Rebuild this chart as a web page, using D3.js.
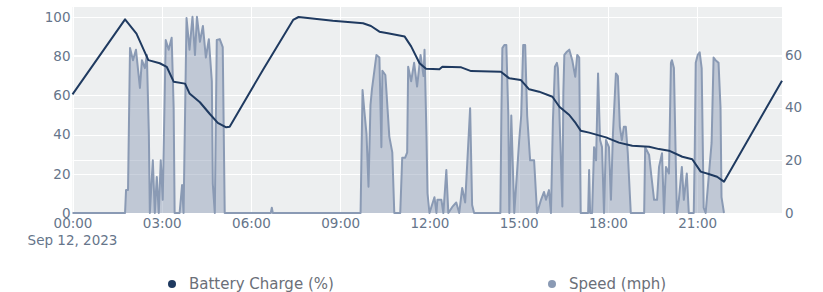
<!DOCTYPE html>
<html>
<head>
<meta charset="utf-8">
<script src="https://cdn.jsdelivr.net/npm/d3@7"></script>
<style>
  html, body { margin: 0; padding: 0; background: #fff; }
  svg { display: block; font-family: "DejaVu Sans", sans-serif; }
</style>
</head>
<body>
<div id="chart"></div>
<script>
// battery charge (%) readings, left axis
const batteryTimes = ["00:00","01:46","02:09","02:33","02:56","03:10","03:24","03:47","03:56","04:17","04:37","04:53","05:10","05:17","06:24","07:25","07:36","08:45","09:46","10:02","10:19","10:36","11:10","11:23","11:40","11:53","12:20","12:26","13:04","13:24","14:24","14:41","15:04","15:21","15:41","16:08","16:22","16:42","16:55","17:05","17:22","17:56","18:22","18:49","19:23","19:43","20:03","20:30","20:50","21:07","21:23","21:40","21:54","23:51"];
const batteryValues = [60.5,98.8,91.5,78,76.4,74.6,67,66,61,56.5,50.5,46,43.7,44,73,98.5,100,98.1,96.8,95.4,92.5,91.7,90,85,76.4,73.6,73.3,74.6,74.3,72.4,72.1,68.7,67.9,63.1,61.9,59.3,54.2,50,45.8,42,41,38.6,35.9,34.3,33.8,32.6,31.8,28.7,27.4,21.1,19.9,18.5,16,67.5];

// speed (mph) readings, right axis
const speedTimes = ["00:00","01:46","01:48","01:52","01:54","01:56","02:02","02:08","02:16","02:20","02:26","02:30","02:34","02:36","02:42","02:46","02:50","02:54","02:58","03:02","03:08","03:14","03:20","03:24","03:26","03:36","03:41","03:44","03:50","03:56","04:02","04:07","04:11","04:17","04:23","04:29","04:35","04:41","04:43","04:47","04:51","04:57","05:03","05:07","06:40","06:42","06:44","09:41","09:45","09:49","09:53","09:57","10:01","10:04","10:13","10:19","10:23","10:25","10:31","10:33","10:39","10:45","10:49","11:01","11:05","11:11","11:15","11:17","11:23","11:29","11:35","11:42","11:48","11:50","11:54","11:56","12:00","12:10","12:14","12:16","12:24","12:28","12:34","12:38","12:46","12:54","13:00","13:06","13:12","13:22","13:26","13:30","14:23","14:25","14:27","14:31","14:35","14:39","14:41","14:45","14:51","15:01","15:05","15:09","15:13","15:17","15:23","15:31","15:37","15:45","15:51","15:55","16:01","16:05","16:07","16:09","16:13","16:17","16:19","16:24","16:28","16:30","16:32","16:36","16:42","16:48","16:54","16:58","17:02","17:05","17:20","17:22","17:24","17:28","17:32","17:36","17:40","17:44","17:48","17:52","17:56","18:02","18:06","18:10","18:16","18:20","18:24","18:28","18:32","18:36","18:40","18:46","19:13","19:15","19:23","19:27","19:33","19:39","19:43","19:49","19:53","19:57","20:03","20:07","20:09","20:13","20:17","20:19","20:23","20:29","20:33","20:39","20:43","20:53","20:55","20:57","21:01","21:05","21:09","21:13","21:17","21:29","21:33","21:37","21:43","21:47","21:49","21:54"];
const speedValues = [0,0,8.7,8.7,36,62.6,58,62,47.5,58,55,60,30,0,20,0,13.7,0,20,5,65.7,62,66.5,40,0,0,10.6,0,74,62,74.5,60,74.5,65,71,59,66,50,11,0,65.7,66,63,0,0,2,0,0,46.7,38,30,10,41,47,60,59,25,54,52.4,46.7,29,23,0,0,21,21,23,55.5,50,57,48,60,52,62,29,7.5,0,6,0,5,5,0,16.3,0,2.3,4,0,9.5,4,39.8,3,0,0,37,62.6,63.8,63.8,37,0,37,0,27.7,37,63.8,63.8,37,20,20,0,5,8,5,8.7,0,17.5,35.3,55.5,57,55,26.6,2.5,45.6,60,61,62,58,51.7,60,59,0,0,16.3,0,0,25,20,53,27.7,25,0,27.7,25,5,30,53,52,32.7,27.7,32.7,32.7,22.7,0,0,25,22,15,5,5,17.5,22.7,0,17.5,15,57,58,55,17.5,0,5,17.5,5,15,0,0,22.7,57,60,61,55,2,0,26.6,59,58,57,40,6,0];

const leftTicks = [0, 20, 40, 60, 80, 100];
const rightTicks = [0, 20, 40, 60];
const xTickLabels = ["00:00", "03:00", "06:00", "09:00", "12:00", "15:00", "18:00", "21:00"];
const dateLabel = "Sep 12, 2023";
const seriesNames = ["Battery Charge (%)", "Speed (mph)"];
const seriesColors = ["#1f3a60", "#8a9ab4"];

const width = 823, height = 292;
const plot = { left: 72.5, right: 782, top: 7, bottom: 213 };
const parse = d3.timeParse("%Y-%m-%d %H:%M");
const day = "2023-09-12 ";

const battery = batteryTimes.map((t, i) => ({ t: parse(day + t), v: batteryValues[i] }));
const speed = speedTimes.map((t, i) => ({ t: parse(day + t), v: speedValues[i] }));

const x = d3.scaleTime()
  .domain([parse(day + "00:00"), parse(day + "23:51")])
  .range([plot.left, plot.right]);
const yLeft = d3.scaleLinear().domain([0, 105.1]).range([plot.bottom, plot.top]);
const yRight = d3.scaleLinear().domain([0, 78.2]).range([plot.bottom, plot.top]);

const svg = d3.select("#chart").append("svg")
  .attr("width", width)
  .attr("height", height);

svg.append("rect")
  .attr("x", plot.left).attr("y", plot.top)
  .attr("width", plot.right - plot.left).attr("height", plot.bottom - plot.top)
  .attr("fill", "#edeff0");

// grid lines (both y axes + x)
const grid = svg.append("g").attr("stroke", "#fff").attr("stroke-width", 1);
xTickLabels.forEach(l => {
  const px = Math.round(x(parse(day + l))) + 0.5;
  grid.append("line").attr("x1", px).attr("x2", px).attr("y1", plot.top).attr("y2", plot.bottom);
});
leftTicks.forEach(v => {
  const py = Math.round(yLeft(v)) + 0.5;
  grid.append("line").attr("x1", plot.left).attr("x2", plot.right).attr("y1", py).attr("y2", py);
});
rightTicks.forEach(v => {
  const py = Math.round(yRight(v)) + 0.5;
  grid.append("line").attr("x1", plot.left).attr("x2", plot.right).attr("y1", py).attr("y2", py);
});

// speed trace
const speedArea = d3.area()
  .x(d => x(d.t)).y0(yRight(0)).y1(d => yRight(d.v));
const speedLine = d3.line()
  .x(d => x(d.t)).y(d => yRight(d.v));
svg.append("path")
  .datum(speed)
  .attr("d", speedArea)
  .attr("fill", seriesColors[1])
  .attr("fill-opacity", 0.45);
svg.append("path")
  .datum(speed)
  .attr("d", speedLine)
  .attr("fill", "none")
  .attr("stroke", seriesColors[1])
  .attr("stroke-width", 2)
  .attr("stroke-linejoin", "round");

// battery trace
svg.append("path")
  .datum(battery)
  .attr("d", d3.line().x(d => x(d.t)).y(d => yLeft(d.v)))
  .attr("fill", "none")
  .attr("stroke", seriesColors[0])
  .attr("stroke-width", 2)
  .attr("stroke-linejoin", "round");

// axes
const labelColor = "#66758a";
const tickFont = 13.5;
const xAxis = svg.append("g")
  .attr("transform", `translate(0, ${plot.bottom})`)
  .call(d3.axisBottom(x)
    .tickValues(xTickLabels.map(l => parse(day + l)))
    .tickFormat(d3.timeFormat("%H:%M"))
    .tickSize(0).tickPadding(5));
xAxis.select(".domain").remove();
xAxis.selectAll("text").attr("fill", labelColor).attr("font-size", tickFont).attr("font-family", "DejaVu Sans");

svg.append("text")
  .attr("x", plot.left).attr("y", 245)
  .attr("text-anchor", "middle")
  .attr("fill", labelColor).attr("font-size", tickFont)
  .text(dateLabel);

const leftAxis = svg.append("g")
  .attr("transform", `translate(${plot.left}, 0)`)
  .call(d3.axisLeft(yLeft).tickValues(leftTicks).tickSize(0).tickPadding(2));
leftAxis.select(".domain").remove();
leftAxis.selectAll("text").attr("fill", labelColor).attr("font-size", tickFont).attr("font-family", "DejaVu Sans");

const rightAxis = svg.append("g")
  .attr("transform", `translate(${plot.right}, 0)`)
  .call(d3.axisRight(yRight).tickValues(rightTicks).tickSize(0).tickPadding(3));
rightAxis.select(".domain").remove();
rightAxis.selectAll("text").attr("fill", labelColor).attr("font-size", tickFont).attr("font-family", "DejaVu Sans");

// legend
const legendX = [172, 552];
seriesNames.forEach((name, i) => {
  const g = svg.append("g").attr("transform", `translate(${legendX[i]}, 284)`);
  g.append("circle").attr("r", 4).attr("fill", seriesColors[i]);
  g.append("text")
    .attr("x", 17).attr("dy", "0.36em")
    .attr("fill", "#6b6f78").attr("font-size", 15)
    .text(name);
});
</script>
</body>
</html>
